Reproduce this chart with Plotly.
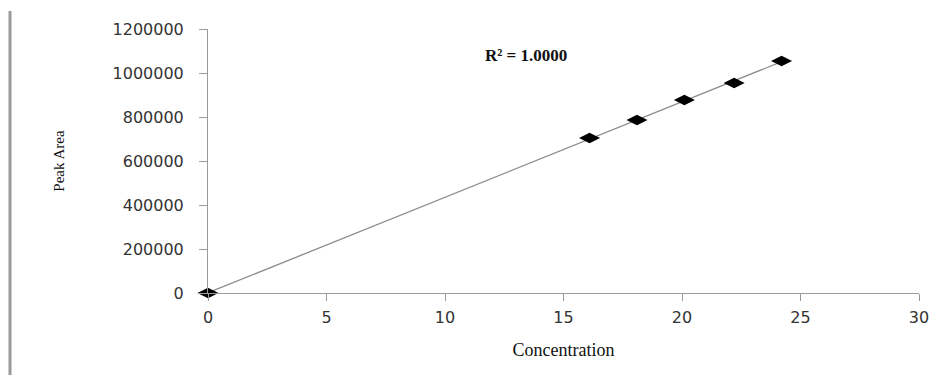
import numpy as np
import plotly.graph_objects as go

concentration = [0, 16.1, 18.1, 20.1, 22.2, 24.2]
peak_area = [0, 704000, 786000, 877000, 955000, 1054000]
r2_label = "R² = 1.0000"
x_title = "Concentration"
y_title = "Peak Area"
x_ticks = [0, 5, 10, 15, 20, 25, 30]
y_ticks = [0, 200000, 400000, 600000, 800000, 1000000, 1200000]

# linear trendline from a least-squares fit of the data
slope, intercept = np.polyfit(concentration, peak_area, 1)
trend_x = [min(concentration), max(concentration)]
trend_y = [slope * v + intercept for v in trend_x]

fig = go.Figure()
fig.add_trace(go.Scatter(x=trend_x, y=trend_y, mode="lines",
                         line=dict(color="#8a8a8a", width=1.3),
                         hoverinfo="skip", showlegend=False, cliponaxis=False))
fig.add_trace(go.Scatter(x=concentration, y=peak_area, mode="markers",
                         marker=dict(symbol="diamond-wide", size=15, color="#000000",
                                     line=dict(width=0)),
                         showlegend=False, cliponaxis=False))

tick_font = dict(family="DejaVu Sans", size=16, color="#333333")
title_font = dict(family="Liberation Serif", size=18, color="#111111")

fig.update_xaxes(range=[0, 30], tickvals=x_ticks, showgrid=False, zeroline=False,
                 showline=True, linecolor="#9a9a9a", linewidth=1,
                 ticks="outside", ticklen=7, tickcolor="#9a9a9a",
                 ticklabelstandoff=3, tickfont=tick_font,
                 title=dict(text=x_title, font=title_font, standoff=17))
fig.update_yaxes(range=[0, 1200000], tickvals=y_ticks, tickformat="d",
                 showgrid=False, zeroline=False,
                 showline=True, linecolor="#9a9a9a", linewidth=1,
                 ticks="outside", ticklen=8, tickcolor="#9a9a9a",
                 ticklabelstandoff=12, tickfont=tick_font,
                 title=dict(text=y_title, font=dict(family="Liberation Serif", size=15,
                                                     color="#111111"), standoff=44))

# page has an 8px body margin; positions below are in screen pixels
OFF = 8
W, H = 950 - OFF, 375 - OFF
L, T = 208 - OFF, 29 - OFF
R = W - (919 - OFF)
B = H - (293 - OFF)
pw, ph = W - L - R, H - T - B


def px_x(sx):
    return (sx - OFF - L) / pw


def px_y(sy):
    return 1 - (sy - OFF - T) / ph


fig.add_annotation(x=px_x(526), y=px_y(44), xref="paper", yref="paper", text=r2_label,
                   showarrow=False, font=dict(family="Liberation Serif", size=17,
                                              color="#111111", weight="bold"))

# left border line of the original image
fig.add_shape(type="line", xref="paper", yref="paper",
              x0=px_x(10), x1=px_x(10), y0=px_y(11), y1=px_y(380),
              line=dict(color="#9a9a9a", width=3))

fig.update_layout(width=W, height=H, margin=dict(l=L, r=R, t=T, b=B, autoexpand=False),
                  plot_bgcolor="white", paper_bgcolor="white")
fig.write_html("out.html")
